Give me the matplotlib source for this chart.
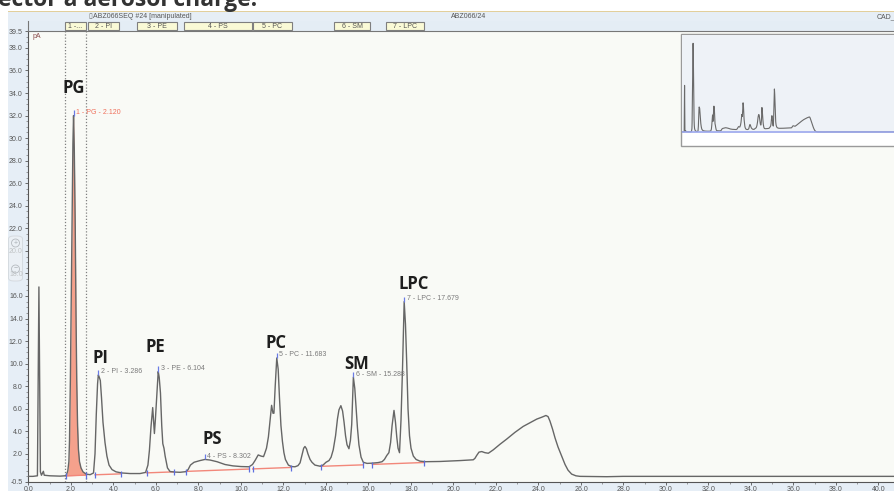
import numpy as np
import matplotlib as mpl
import matplotlib.pyplot as plt
from matplotlib.patches import Rectangle, FancyBboxPatch, Ellipse
from matplotlib.ticker import MultipleLocator, FixedLocator, FormatStrFormatter

mpl.rcParams['font.family'] = ['Liberation Sans', 'DejaVu Sans']

# CAD chromatogram trace (min / pA)
time = [0.00, 0.21, 0.42, 0.46, 0.49, 0.53, 0.56, 0.61, 0.66, 0.70, 0.74, 1.01, 1.48, 1.72,
        1.79, 1.85, 1.90, 1.93, 1.97, 2.01, 2.06, 2.09, 2.12, 2.155, 2.20, 2.235, 2.27, 2.31,
        2.35, 2.40, 2.47, 2.565, 2.71, 2.90, 3.06, 3.13, 3.19, 3.25, 3.286, 3.33, 3.38, 3.435,
        3.505, 3.60, 3.69, 3.79, 3.93, 4.12, 4.40, 4.78, 5.25, 5.51, 5.62, 5.69, 5.765, 5.845,
        5.885, 5.925, 5.97, 6.03, 6.075, 6.104, 6.15, 6.21, 6.27, 6.32, 6.375, 6.43, 6.54, 6.66,
        6.89, 7.13, 7.41, 7.51, 7.62, 7.79, 8.07, 8.302, 8.54, 8.87, 9.25, 9.62, 10.00, 10.38,
        10.54, 10.66, 10.81, 10.94, 11.06, 11.11, 11.20, 11.29, 11.37, 11.44, 11.505, 11.55,
        11.61, 11.683, 11.75, 11.81, 11.88, 11.95, 12.02, 12.09, 12.23, 12.38, 12.54, 12.68,
        12.78, 12.87, 12.95, 13.01, 13.08, 13.15, 13.25, 13.34, 13.48, 13.72, 13.86, 14.00,
        14.14, 14.24, 14.34, 14.45, 14.54, 14.61, 14.70, 14.78, 14.85, 14.92, 14.99, 15.08,
        15.15, 15.21, 15.288, 15.355, 15.41, 15.48, 15.55, 15.65, 15.755, 15.93, 16.16, 16.45,
        16.64, 16.75, 16.86, 16.96, 17.04, 17.11, 17.20, 17.27, 17.33, 17.39, 17.46, 17.53,
        17.60, 17.679, 17.74, 17.80, 17.86, 17.93, 18.00, 18.11, 18.24, 18.42, 18.66, 19.36,
        20.31, 20.93, 21.01, 21.09, 21.20, 21.33, 21.48, 21.64, 21.87, 22.19, 22.50, 22.89,
        23.28, 23.60, 23.92, 24.16, 24.35, 24.45, 24.54, 24.66, 24.78, 24.92, 25.11, 25.25,
        25.39, 25.56, 25.76, 25.95, 26.66, 27.21, 27.98, 31.60, 36.30, 40.73]
signal = [0.0, 0.0, 0.05, 9.0, 16.8, 8.0, 0.4, 0.1, 0.3, 0.45, 0.1, 0.05, 0.02, 0.05,
          0.15, 0.5, 1.3, 3.2, 8.5, 15.5, 24.0, 29.5, 32.0, 29.0, 22.0, 14.5, 8.5, 4.5,
          2.4, 1.3, 0.75, 0.4, 0.2, 0.15, 0.3, 2.0, 5.5, 8.2, 9.0, 8.8, 8.5, 7.0,
          4.8, 3.0, 1.8, 1.0, 0.6, 0.4, 0.3, 0.25, 0.25, 0.35, 1.0, 2.3, 4.4, 6.1,
          5.0, 3.8, 5.0, 7.0, 8.6, 9.3, 8.8, 7.4, 4.5, 2.9, 2.5, 1.8, 0.75, 0.43,
          0.38, 0.36, 0.42, 0.6, 1.0, 1.25, 1.4, 1.5, 1.45, 1.3, 1.05, 0.93, 0.87, 0.85,
          1.05, 1.4, 1.9, 1.8, 1.75, 2.0, 2.5, 3.5, 5.0, 6.3, 5.6, 5.6,
          8.0, 10.5, 9.5, 7.0, 4.5, 3.1, 2.1, 1.5, 1.0, 0.87, 0.85, 0.95,
          1.2, 1.9, 2.5, 2.65, 2.45, 2.0, 1.5, 1.25, 1.0, 0.9, 1.0, 1.25,
          1.4, 1.7, 2.35, 3.6, 5.1, 5.9, 6.27, 5.8, 4.8, 3.6, 2.8, 2.45,
          3.2, 4.6, 8.8, 7.8, 6.2, 4.3, 2.8, 1.7, 1.25, 1.15, 1.17, 1.22,
          1.3, 1.5, 1.85, 2.1, 3.0, 4.5, 5.85, 4.8, 3.5, 2.5, 2.1, 5.0,
          9.5, 15.5, 13.5, 10.0, 6.0, 3.6, 2.5, 1.8, 1.5, 1.35, 1.3, 1.32,
          1.4, 1.47, 1.6, 1.85, 2.15, 2.2, 2.1, 2.05, 2.35, 2.85, 3.3, 3.9,
          4.43, 4.75, 5.08, 5.25, 5.4, 5.3, 4.9, 4.2, 3.4, 2.6, 1.7, 1.05,
          0.55, 0.2, 0.05, 0.0, -0.02, -0.03, 0.0, 0.0, 0.0, 0.0]

# integrated peaks
peak_names = ['PG', 'PI', 'PE', 'PS', 'PC', 'SM', 'LPC']
peak_times = [2.120, 3.286, 6.104, 8.302, 11.683, 15.288, 17.679]
peak_heights = [32.0, 9.0, 9.3, 1.5, 10.5, 8.8, 15.5]

# peak start / end delimiters and baseline level there
delim_time = [1.75, 2.69, 3.13, 4.34, 5.56, 6.86, 7.41, 10.38, 10.55, 12.35, 13.75, 15.73, 16.18, 18.63]
delim_base = [0.04, 0.11, 0.14, 0.22, 0.31, 0.40, 0.44, 0.65, 0.66, 0.79, 0.89, 1.02, 1.06, 1.23]

# peak windows in the header strip
win_start = [1.72, 2.79, 5.12, 7.32, 10.55, 14.39, 16.81]
win_end = [2.71, 4.26, 6.97, 10.50, 12.41, 16.07, 18.63]
win_labels = ['1 -...', '2 - PI', '3 - PE', '4 - PS', '5 - PC', '6 - SM', '7 - LPC']

W, H = 894.0, 491.0


def fx(px):
    return px / W


def fy(py):
    return 1 - py / H


def fig_rect(x0, y0, x1, y1, **kw):
    r = Rectangle((fx(x0), fy(y1)), (x1 - x0) / W, (y1 - y0) / H,
                  transform=fig.transFigure, **kw)
    fig.add_artist(r)
    return r


fig = plt.figure(figsize=(8.94, 4.91), dpi=100)
fig.patch.set_facecolor('white')

# cut-off slide title at the very top
fig.text(fx(-2), fy(5.5), 'ector a aerosol charge.', fontsize=16.5, fontweight='bold',
         family='Open Sans', color='#333333', va='baseline', ha='left')

# window chrome
fig_rect(8, 11, 900, 495, facecolor='#e6eef6', edgecolor='none', zorder=-5)
fig_rect(8, 11, 900, 11.8, facecolor='#e2cf9c', edgecolor='none', zorder=-4)
fig_rect(8, 20.5, 900, 21.2, facecolor='#8f9499', edgecolor='none', zorder=-4)
fig.text(fx(88), fy(16.5), '\u25af', fontsize=5, color='#666', va='center')
fig.text(fx(93), fy(16.5), 'ABZ066SEQ #24 [manipulated]', fontsize=5, color='#555', va='center')
fig.text(fx(451), fy(16.5), 'ABZ066/24', fontsize=5, color='#555', va='center')
fig.text(fx(877), fy(16.5), 'CAD_', fontsize=5, color='#555', va='center')

# main chromatogram
ax = fig.add_axes([fx(27.5), fy(482), (W - 27.5) / W, (482 - 31) / H])
ax.set_facecolor('#f9faf6')
ax.set_xlim(-0.047, 40.73)
ax.set_ylim(-0.5, 39.5)

ax.axvline(win_start[0], color='#808080', ls=(0, (1, 1.5)), lw=0.9, zorder=1)
ax.axvline(win_end[0], color='#808080', ls=(0, (1, 1.5)), lw=0.9, zorder=1)

t = np.array(time)
s = np.array(signal)

# selected peak (PG) shaded down to its baseline
m = (t > delim_time[0]) & (t < delim_time[1])
fx_t = np.concatenate([[delim_time[0]], t[m], [delim_time[1]]])
fy_s = np.interp(fx_t, t, s)
base = np.interp(fx_t, delim_time[0:2], delim_base[0:2])
ax.fill_between(fx_t, base, fy_s, color='#f5a18c', lw=0, zorder=2)

for i in range(0, len(delim_time), 2):
    ax.plot(delim_time[i:i + 2], delim_base[i:i + 2], color='#f2877a', lw=1.0, zorder=3)

ax.plot(t, s, color='#666666', lw=1.0, zorder=4)

ax.vlines(delim_time, np.array(delim_base) - 0.3, np.array(delim_base) + 0.25,
          color='#5e6fe0', lw=0.9, zorder=5)

big_dt = [0.02, 0.08, -0.15, 0.34, -0.03, 0.17, 0.46]
big_dv = [2.45, 1.5, 2.2, 1.8, 1.33, 1.2, 1.57]
for i, (name, pt, ph) in enumerate(zip(peak_names, peak_times, peak_heights)):
    col = '#f0705c' if i == 0 else '#7a7a7a'
    ax.vlines(pt, ph, ph + 0.45, color='#6a7be6', lw=0.9, zorder=5)
    ax.text(pt + 0.12, ph + 0.27, '%d - %s - %.3f' % (i + 1, name, pt),
            fontsize=5, color=col, va='center', ha='left', zorder=6)
    ax.text(pt + big_dt[i], ph + big_dv[i], name, fontsize=12, fontweight='bold',
            family='Open Sans', color='#1e1e1e', ha='center', va='center', zorder=6)

ax.text(0.0063, 0.987, 'pA', transform=ax.transAxes, fontsize=5, color='#8a4b4b', va='center')

yt = [-0.5] + list(range(2, 40, 2)) + [39.5]
ax.yaxis.set_major_locator(FixedLocator(yt))
ax.yaxis.set_major_formatter(FormatStrFormatter('%.1f'))
ax.yaxis.set_minor_locator(MultipleLocator(0.5))
ax.xaxis.set_major_locator(MultipleLocator(2))
ax.xaxis.set_major_formatter(FormatStrFormatter('%.1f'))
ax.xaxis.set_minor_locator(MultipleLocator(1))
ax.tick_params(which='major', labelsize=5, length=2.5, width=0.6, colors='#555', pad=1.0)
ax.tick_params(which='minor', length=1.4, width=0.5, colors='#777')
ax.tick_params(axis='x', pad=0.6)
for side in ['top', 'right']:
    ax.spines[side].set_visible(False)
for side in ['left', 'bottom']:
    ax.spines[side].set_color('#555')
    ax.spines[side].set_linewidth(0.8)

# peak window strip
band = fig.add_axes([fx(27.5), fy(31), (W - 27.5) / W, 10 / H])
band.set_facecolor('#e4edf5')
band.set_xlim(ax.get_xlim())
band.set_ylim(0, 1)
band.set_xticks([])
band.set_yticks([])
for side in ['top', 'right']:
    band.spines[side].set_visible(False)
band.spines['bottom'].set_color('#777')
band.spines['left'].set_color('#777')
for x0, x1, lab in zip(win_start, win_end, win_labels):
    band.add_patch(Rectangle((x0, 0.1), x1 - x0, 0.8, facecolor='#fafad6',
                             edgecolor='#7f7f7f', lw=0.8))
    band.text((x0 + x1) / 2, 0.5, lab, fontsize=5, color='#555', ha='center', va='center')

# overview inset
fig_rect(681, 34, 905, 146, facecolor='white', edgecolor='#9a9a9a', lw=1.0, zorder=2)
ins = fig.add_axes([fx(682), fy(133), 230 / W, 98 / H], zorder=3)
ins.set_facecolor('#eef2f7')
ins.set_xlim(0, 44)
ins.set_ylim(-0.4, 35)
ins.plot(t, s, color='#6a6a6a', lw=0.8)
ins.axhline(-0.2, color='#9da8ee', lw=1.2)
ins.set_xticks([])
ins.set_yticks([])
for sp in ins.spines.values():
    sp.set_visible(False)

# zoom widget on the left axis
fig.add_artist(FancyBboxPatch((fx(8.5), fy(281)), 14 / W, 45 / H,
                              boxstyle='round,pad=0,rounding_size=0.006',
                              transform=fig.transFigure, facecolor='#eef2f5',
                              edgecolor='#c9cdd2', lw=0.6, alpha=0.7, zorder=1))
for cy, sym in [(243, '+'), (269, '\u2212')]:
    fig.add_artist(Ellipse((fx(15.5), fy(cy)), 8 / W, 8 / H, transform=fig.transFigure,
                           facecolor='none', edgecolor='#b5babf', lw=0.6, zorder=1))
    fig.text(fx(15.5), fy(cy), sym, fontsize=5, color='#aab0b5', ha='center', va='center')

fig.savefig('out.png', dpi=100)
